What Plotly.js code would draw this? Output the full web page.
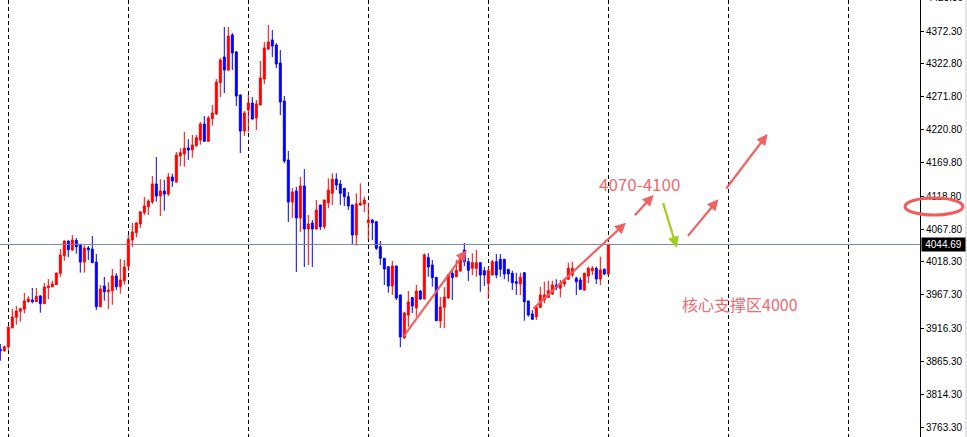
<!DOCTYPE html>
<html>
<head>
<meta charset="utf-8">
<script src="https://cdn.plot.ly/plotly-3.0.1.min.js"></script>
<style>
  html, body { margin: 0; padding: 0; background: #fff; }
  #chart { width: 967px; height: 437px; }
</style>
</head>
<body>
<div id="chart"></div>
<script>
// ---- Data ----
const open = [
  3883.7, 3881.6, 3887.7, 3916.9, 3932.8, 3942.1, 3945.1, 3956.8, 3959.4, 3956.8,
  3965.5, 3953.7, 3978.3, 3979.8, 3982.9, 4000.4, 4027.4, 4050.0, 4036.1, 4051.0,
  4044.9, 4017.7, 4039.2, 4037.7, 4017.7, 3949.1, 3980.9, 3972.1, 3973.7, 3996.2,
  3979.8, 3989.0, 4011.6, 4051.5, 4062.7, 4076.1, 4093.4, 4102.6, 4109.8, 4137.5,
  4119.0, 4126.7, 4122.1, 4148.2, 4140.5, 4180.4, 4183.5, 4192.7, 4189.6, 4196.3,
  4205.0, 4229.6, 4203.0, 4237.7, 4244.9, 4293.0, 4332.4, 4312.4, 4366.2, 4340.1,
  4274.1, 4218.8, 4251.0, 4261.8, 4238.8, 4258.7, 4298.6, 4344.7, 4358.5, 4350.8,
  4323.2, 4264.9, 4174.3, 4109.8, 4126.7, 4085.3, 4134.4, 4068.4, 4077.6, 4068.4,
  4105.2, 4071.9, 4108.8, 4123.2, 4144.7, 4137.5, 4130.9, 4118.0, 4105.2, 4059.2,
  4105.2, 4106.8, 4078.1, 4082.2, 4079.6, 4041.2, 4023.4, 4010.5, 3980.9, 4011.6,
  3967.1, 3901.8, 3936.4, 3963.2, 3947.1, 3973.2, 3960.9, 4024.3, 4013.1, 3994.2,
  3927.2, 3948.2, 3962.5, 4000.4, 3995.2, 4003.9, 4036.1, 4018.2, 4008.1, 4008.1,
  4016.7, 4004.4, 3985.0, 3997.8, 4018.2, 4021.9, 4021.9, 4006.5, 4000.4, 3987.5,
  3984.0, 4001.3, 3957.9, 3937.9, 3933.8, 3948.2, 3959.4, 3963.5, 3968.6, 3982.4,
  3977.4, 3984.0, 3991.2, 3997.8, 3992.7, 3990.1, 3974.7, 3996.2, 4004.4, 4008.1,
  3991.6, 4006.5, 3999.3
];
const high = [
  3891.9, 3889.3, 3919.5, 3945.6, 3950.2, 3947.6, 3970.1, 3965.5, 3977.8, 3977.8,
  3967.1, 3985.5, 3991.6, 3989.0, 4001.5, 4037.7, 4050.5, 4050.5, 4059.2, 4054.6,
  4045.5, 4043.4, 4042.3, 4057.6, 4030.0, 3982.4, 3994.7, 3986.6, 4007.0, 4000.8,
  4022.3, 4020.8, 4059.2, 4077.6, 4079.1, 4096.0, 4117.5, 4113.7, 4149.7, 4178.9,
  4144.7, 4143.6, 4154.3, 4153.3, 4186.6, 4192.3, 4217.3, 4206.5, 4212.7, 4212.7,
  4232.6, 4241.8, 4241.8, 4258.7, 4298.6, 4330.9, 4378.5, 4378.5, 4369.2, 4341.6,
  4274.6, 4249.5, 4274.1, 4271.0, 4266.4, 4326.3, 4355.4, 4381.5, 4373.8, 4353.9,
  4343.1, 4272.5, 4188.1, 4131.3, 4132.9, 4148.2, 4160.5, 4089.9, 4082.2, 4112.9,
  4105.7, 4113.4, 4146.2, 4153.9, 4153.9, 4143.6, 4131.4, 4125.2, 4105.7, 4123.2,
  4138.5, 4118.0, 4108.3, 4083.7, 4080.1, 4050.0, 4023.9, 4011.0, 4019.3, 4012.1,
  3967.6, 3941.4, 3973.2, 3964.0, 3982.4, 3974.7, 4031.1, 4031.1, 4020.8, 3994.7,
  3964.0, 3979.4, 3998.7, 4004.4, 4020.8, 4030.0, 4046.9, 4023.9, 4031.1, 4036.1,
  4017.2, 4010.5, 4009.6, 4020.8, 4030.0, 4030.0, 4022.4, 4007.0, 4004.4, 4001.3,
  4001.3, 4001.8, 3958.4, 3944.0, 3950.2, 3979.8, 3987.5, 3989.0, 3989.0, 3991.2,
  3990.1, 3992.7, 4016.7, 4018.2, 3995.2, 3994.2, 4001.3, 4010.5, 4011.6, 4010.5,
  4025.9, 4008.1, 4044.69
];
const low = [
  3866.2, 3880.0, 3883.7, 3915.7, 3921.5, 3926.1, 3939.0, 3955.3, 3954.3, 3956.3,
  3939.9, 3953.3, 3960.9, 3978.9, 3982.4, 3995.2, 4019.7, 4025.4, 4035.1, 4030.5,
  4001.3, 4001.3, 4020.8, 4016.0, 3944.0, 3948.5, 3958.3, 3945.6, 3952.2, 3974.7,
  3969.1, 3982.9, 4003.9, 4041.2, 4055.6, 4069.9, 4089.9, 4089.9, 4106.8, 4110.3,
  4088.3, 4096.5, 4119.0, 4132.9, 4139.5, 4165.1, 4164.0, 4174.3, 4177.8, 4194.7,
  4197.8, 4201.9, 4201.9, 4226.9, 4243.4, 4271.0, 4277.1, 4310.9, 4312.4, 4257.2,
  4185.0, 4211.1, 4217.3, 4236.7, 4220.3, 4258.2, 4291.0, 4343.1, 4332.4, 4315.5,
  4243.4, 4169.7, 4079.1, 4085.3, 4002.4, 4063.8, 4010.1, 4013.1, 4010.1, 4067.9,
  4066.8, 4068.4, 4100.2, 4105.2, 4128.2, 4105.2, 4103.7, 4097.5, 4045.4, 4042.8,
  4103.7, 4094.5, 4051.5, 4051.5, 4036.1, 4013.1, 3982.4, 3970.6, 3967.1, 3959.4,
  3886.8, 3899.5, 3918.0, 3939.4, 3933.8, 3959.4, 3960.4, 3995.2, 3979.8, 3927.1,
  3916.4, 3916.4, 3960.9, 3959.4, 3994.2, 4002.8, 4011.6, 3988.6, 3997.8, 3995.2,
  3972.1, 3980.9, 3960.5, 3997.3, 3992.7, 3995.2, 3991.2, 3987.5, 3974.7, 3967.1,
  3967.1, 3927.6, 3933.8, 3928.7, 3928.7, 3946.7, 3954.3, 3962.0, 3967.1, 3974.7,
  3963.5, 3979.8, 3990.1, 3994.2, 3967.1, 3974.7, 3973.7, 3985.0, 3997.8, 3983.9,
  3982.4, 3997.8, 3997.8
];
const close = [
  3881.6, 3887.7, 3917.5, 3933.3, 3942.5, 3946.0, 3957.9, 3960.9, 3956.8, 3965.1,
  3953.7, 3979.4, 3980.9, 3984.0, 4000.8, 4028.5, 4050.0, 4036.6, 4051.5, 4041.2,
  4017.7, 4039.2, 4036.6, 4016.7, 3949.1, 3976.3, 3972.1, 3974.7, 3996.2, 3979.8,
  3990.1, 4010.1, 4052.6, 4063.8, 4077.6, 4094.5, 4103.7, 4111.4, 4137.5, 4119.0,
  4126.7, 4122.1, 4148.2, 4142.1, 4182.0, 4185.5, 4192.7, 4189.6, 4197.3, 4208.5,
  4229.6, 4203.0, 4238.8, 4246.4, 4294.0, 4327.8, 4312.4, 4364.6, 4338.5, 4272.5,
  4218.8, 4246.4, 4261.8, 4237.2, 4260.3, 4300.2, 4346.2, 4355.4, 4349.3, 4321.7,
  4263.3, 4172.8, 4109.8, 4125.2, 4085.3, 4134.4, 4068.4, 4076.1, 4068.4, 4097.5,
  4071.9, 4112.9, 4128.2, 4144.7, 4135.9, 4123.2, 4118.0, 4103.7, 4059.2, 4106.8,
  4107.8, 4112.9, 4082.2, 4078.1, 4038.8, 4023.4, 4007.0, 3980.9, 4011.6, 3962.5,
  3902.6, 3939.4, 3956.3, 3950.2, 3973.2, 3960.9, 4028.5, 4010.1, 3993.6, 3927.6,
  3948.7, 3964.0, 3998.2, 3993.9, 4005.0, 4024.3, 4018.2, 4005.0, 4016.7, 4016.7,
  3997.8, 3997.8, 4004.4, 4018.2, 3997.8, 4006.5, 3999.3, 3999.3, 3986.0, 3985.0,
  3994.2, 3956.8, 3936.4, 3929.8, 3948.2, 3967.1, 3967.1, 3973.7, 3982.4, 3978.3,
  3985.0, 3989.0, 4008.1, 4008.1, 3987.5, 3975.8, 4000.4, 4008.1, 4008.1, 3991.6,
  4005.4, 3999.3, 4044.69
];
const lastPrice = 4044.69;
const priceTicks = [4372.3, 4322.8, 4271.8, 4220.8, 4169.8, 4118.8, 4067.8,
                    4018.3, 3967.3, 3916.3, 3865.3, 3814.3, 3763.3];
const priceTickLabels = ['4372.30', '4322.80', '4271.80', '4220.80', '4169.80', '4118.80',
                         '4067.80', '4018.30', '3967.30', '3916.30', '3865.30', '3814.30', '3763.30'];
const topCutLabel = '4423.30';
const noteRange = '4070-4100';
const noteSupport = '核心支撑区4000';

// bar index (category axis of the chart)
const bars = open.map((_, i) => i);

// ---- drawing ----
const RED = '#ff0000', BLUE = '#0000ff';
const ARROW_RED = '#f25a5a', ARROW_GREEN = '#9acd10';
const AXIS_FONT = { family: 'Liberation Sans, Arial, sans-serif', size: 10, color: '#000000' };

const trace = {
  type: 'candlestick',
  x: bars, open: open, high: high, low: low, close: close,
  increasing: { line: { color: RED, width: 1 }, fillcolor: RED },
  decreasing: { line: { color: BLUE, width: 1 }, fillcolor: BLUE },
  whiskerwidth: 0,
  hoverinfo: 'skip',
  showlegend: false
};

// arrows: tail (ax, ay) -> head (x, y), in bar index / price units
const arrowDefs = [
  { ax: 100.6, ay: 3901.5, x: 116.6, y: 4036.2, c: ARROW_RED },
  { ax: 132.9, ay: 3944.1, x: 156.4, y: 4078.1, c: ARROW_RED },
  { ax: 158.3, ay: 4087.3, x: 163.3, y: 4120.6, c: ARROW_RED },
  { ax: 165.6, ay: 4110.3, x: 169.1, y: 4039.7, c: ARROW_GREEN },
  { ax: 171.6, ay: 4055.6, x: 179.5, y: 4114.0, c: ARROW_RED },
  { ax: 181.2, ay: 4128.2, x: 191.8, y: 4214.2, c: ARROW_RED }
];

const annotations = arrowDefs.map(a => ({
  x: a.x, y: a.y, ax: a.ax, ay: a.ay,
  xref: 'x', yref: 'y', axref: 'x', ayref: 'y',
  text: '', showarrow: true,
  arrowhead: 2, arrowsize: 1.0, arrowwidth: 2.2, arrowcolor: a.c,
  standoff: 0, startstandoff: 0, opacity: 0.95
}));

annotations.push({
  x: 159.9, y: 4137.5, xref: 'x', yref: 'y', text: noteRange, showarrow: false,
  font: { family: 'Noto Sans CJK SC, Noto Sans, sans-serif', size: 17, color: '#f06a6e' }
});
annotations.push({
  x: 184.8, y: 3954.0, xref: 'x', yref: 'y', text: noteSupport, showarrow: false,
  font: { family: 'Noto Sans CJK SC, sans-serif', size: 16, color: '#f06a74' }
});
// last price tag on the axis
annotations.push({
  x: 1, xref: 'paper', xanchor: 'left', xshift: 1,
  y: lastPrice, yref: 'y', yanchor: 'middle',
  text: lastPrice.toFixed(2), showarrow: false,
  bgcolor: '#000000', borderpad: 1, width: 41,
  font: { family: 'Liberation Sans, Arial, sans-serif', size: 10, color: '#ffffff' }
});
// partially visible top label
annotations.push({
  x: 1, xref: 'paper', xanchor: 'left', xshift: 5,
  y: 1.0046, yref: 'paper', yanchor: 'middle',
  text: topCutLabel, showarrow: false, font: AXIS_FONT
});

const layout = {
  width: 967, height: 437,
  margin: { l: 0, r: 47, t: 0, b: 0, pad: 0 },
  paper_bgcolor: '#ffffff', plot_bgcolor: '#ffffff',
  showlegend: false,
  boxgap: 0.3, boxgroupgap: 0.3,
  xaxis: {
    range: [-0.075, 229.925],
    rangeslider: { visible: false },
    tickmode: 'linear', tick0: 2, dtick: 30,
    showgrid: true, gridcolor: '#000000', gridwidth: 1, griddash: '4px,3px',
    showticklabels: false, ticks: '', zeroline: false, showline: false,
    fixedrange: true
  },
  yaxis: {
    side: 'right',
    range: [3749.1, 4419.9],
    tickmode: 'array', tickvals: priceTicks, ticktext: priceTickLabels,
    ticks: 'outside', ticklen: 3, tickcolor: '#000000', tickwidth: 1,
    showgrid: false, zeroline: false,
    showline: true, linecolor: '#000000', linewidth: 1,
    tickfont: AXIS_FONT,
    fixedrange: true
  },
  shapes: [
    { type: 'line', xref: 'paper', yref: 'y', x0: 0, x1: 1, y0: lastPrice, y1: lastPrice,
      line: { color: '#778899', width: 1 }, layer: 'above' },
    { type: 'circle', xref: 'paper', yref: 'paper', x0: 0.9837, x1: 1.0467, y0: 0.508, y1: 0.547,
      line: { color: '#f25c5c', width: 3 }, layer: 'above' },
    { type: 'rect', xref: 'paper', yref: 'paper', x0: 1.0489, x1: 1.06, y0: 0, y1: 1,
      fillcolor: '#e6e6e6', line: { width: 0 }, layer: 'below' }
  ],
  annotations: annotations
};

Plotly.newPlot('chart', [trace], layout, { displayModeBar: false, staticPlot: true });
</script>
</body>
</html>
